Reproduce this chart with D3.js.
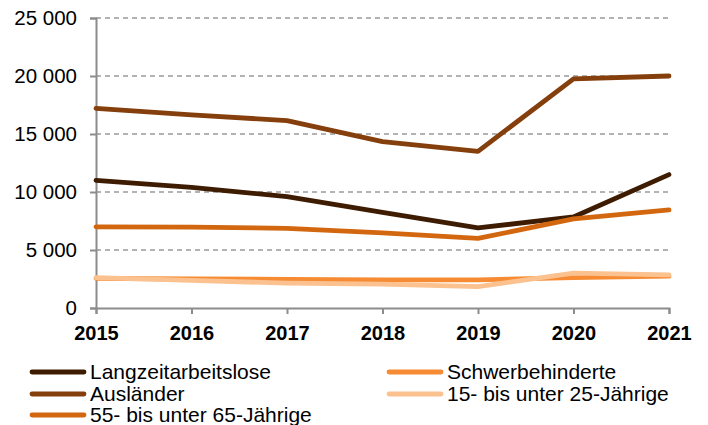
<!DOCTYPE html>
<html>
<head>
<meta charset="utf-8">
<script src="https://cdn.jsdelivr.net/npm/d3@7"></script>
<style>
  body { margin: 0; background: #fff; }
  text { font-family: "Liberation Sans", Arial, sans-serif; fill: #000; }
</style>
</head>
<body>
<div id="container"></div>
<script>
/* DATA */
const years = [2015, 2016, 2017, 2018, 2019, 2020, 2021];
const yTicks = [0, 5000, 10000, 15000, 20000, 25000];

const langzeit = [11000, 10400, 9600, 8250, 6900, 7850, 11500];
const schwer = [2560, 2500, 2470, 2420, 2420, 2620, 2750];
const auslaender = [17200, 16650, 16150, 14350, 13500, 19750, 20000];
const jung = [2620, 2380, 2140, 2060, 1850, 3000, 2850];
const alt = [7000, 6980, 6870, 6480, 6000, 7680, 8450];

const seriesNames = ["Langzeitarbeitslose", "Schwerbehinderte", "Ausländer",
  "15- bis unter 25-Jährige", "55- bis unter 65-Jährige"];
const seriesValues = [langzeit, schwer, auslaender, jung, alt];
const seriesColors = ["#3d1c02", "#f68b33", "#843f0c", "#fbc18f", "#d3670f"];

/* CONSTANTS */
const width = 708, height = 425,
  margin = { top: 18, left: 96, right: 39, bottom: 117 };

const svg = d3.select("#container").append("svg")
  .attr("width", width)
  .attr("height", height);

/* SCALES */
const xScale = d3.scalePoint()
  .domain(years)
  .range([margin.left, width - margin.right]);

const yScale = d3.scaleLinear()
  .domain([0, 25000])
  .range([height - margin.bottom, margin.top]);

const fmt = d => d3.format(",")(d).replace(/,/g, " ");

// gridlines
svg.append("g")
  .selectAll("line")
  .data(yTicks.filter(d => d > 0))
  .join("line")
  .attr("x1", margin.left)
  .attr("x2", width - margin.right)
  .attr("y1", d => yScale(d))
  .attr("y2", d => yScale(d))
  .attr("stroke", "#9a9a9a")
  .attr("stroke-width", 1.3)
  .attr("stroke-dasharray", "5,4");

// y axis
const yAxis = d3.axisLeft(yScale)
  .tickValues(yTicks)
  .tickFormat(fmt)
  .tickSize(6)
  .tickPadding(13);
const gy = svg.append("g")
  .attr("transform", `translate(${margin.left},0)`)
  .call(yAxis);
gy.select(".domain").attr("stroke", "#8c8c8c").attr("stroke-width", 2);
gy.selectAll(".tick line").attr("stroke", "#8c8c8c").attr("stroke-width", 2);
gy.selectAll(".tick text")
  .style("font-size", "20.5px")
  .style("font-family", "'Liberation Sans', Arial, sans-serif");

// x axis
const xAxis = d3.axisBottom(xScale).tickSize(6).tickPadding(12);
const gx = svg.append("g")
  .attr("transform", `translate(0,${height - margin.bottom})`)
  .call(xAxis);
gx.select(".domain").attr("stroke", "#8c8c8c").attr("stroke-width", 2);
gx.selectAll(".tick line").attr("stroke", "#8c8c8c").attr("stroke-width", 2);
gx.selectAll(".tick text")
  .style("font-size", "20px")
  .style("font-weight", "bold")
  .style("font-family", "'Liberation Sans', Arial, sans-serif");

// lines
const line = d3.line()
  .x((d, i) => xScale(years[i]))
  .y(d => yScale(d));

svg.append("g")
  .selectAll("path")
  .data(seriesValues)
  .join("path")
  .attr("d", d => line(d))
  .attr("fill", "none")
  .attr("stroke", (d, i) => seriesColors[i])
  .attr("stroke-width", 4.8)
  .attr("stroke-linejoin", "round")
  .attr("stroke-linecap", "round");

// legend
const legendPos = [
  { x: 32, y: 372 }, { x: 389, y: 372 },
  { x: 32, y: 394 }, { x: 389, y: 394 },
  { x: 32, y: 415 }
];
const legend = svg.append("g")
  .selectAll("g")
  .data(seriesNames)
  .join("g")
  .attr("transform", (d, i) => `translate(${legendPos[i].x},${legendPos[i].y})`);

legend.append("line")
  .attr("x1", 0).attr("x2", 52)
  .attr("stroke", (d, i) => seriesColors[i])
  .attr("stroke-width", 4.8)
  .attr("stroke-linecap", "round");

legend.append("text")
  .attr("x", 58)
  .attr("dy", "0.35em")
  .style("font-size", "21px")
  .text(d => d);
</script>
</body>
</html>
